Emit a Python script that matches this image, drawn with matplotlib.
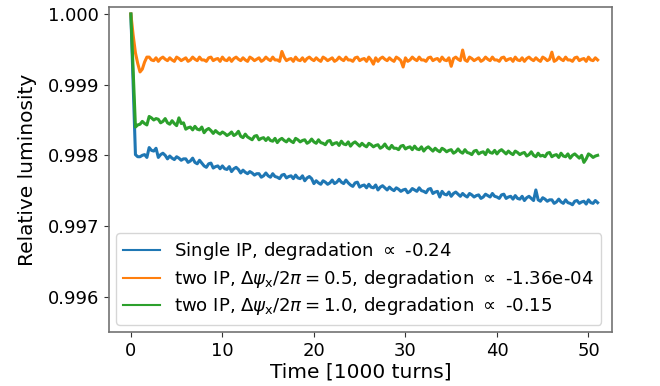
import numpy as np
import matplotlib
matplotlib.use("Agg")
import matplotlib.pyplot as plt

# sample times [1000 turns], step 0.25 (0 ... 51)
t = np.arange(0, 205) * 0.25

# luminosity loss, in units of 1e-5 (relative luminosity = 1 - loss*1e-5)
blue_loss = [
    0, 100, 199, 202, 202, 200, 199, 203, 189, 193, 194, 190, 203, 199, 197, 200,
    205, 201, 204, 206, 202, 204, 207, 205, 205, 210, 208, 204, 210, 212, 207, 211,
    215, 217, 212, 211, 218, 216, 215, 219, 215, 219, 220, 216, 223, 219, 217, 220,
    225, 221, 224, 226, 223, 225, 228, 226, 226, 231, 229, 225, 229, 231, 226, 230,
    231, 233, 228, 227, 232, 230, 229, 233, 228, 232, 233, 229, 236, 232, 230, 233,
    240, 236, 239, 241, 236, 238, 241, 239, 235, 240, 238, 234, 238, 240, 235, 239,
    242, 244, 239, 238, 245, 243, 242, 246, 241, 245, 246, 242, 249, 245, 243, 246,
    249, 245, 248, 250, 246, 248, 251, 249, 248, 253, 251, 247, 249, 251, 246, 250,
    251, 253, 248, 247, 254, 252, 251, 259, 251, 255, 256, 252, 258, 254, 252, 255,
    258, 254, 257, 259, 254, 256, 259, 257, 256, 261, 259, 255, 257, 259, 254, 258,
    259, 261, 256, 255, 261, 259, 258, 262, 257, 261, 262, 258, 264, 260, 258, 261,
    264, 249, 263, 265, 260, 262, 265, 263, 263, 268, 266, 262, 266, 268, 263, 267,
    268, 270, 265, 264, 268, 266, 265, 269, 263, 267, 268, 264, 267,
]
orange_loss = [
    0, 30, 55, 70, 82, 78, 68, 61, 61, 65, 66, 62, 67, 63, 61, 64,
    66, 62, 65, 67, 61, 63, 66, 64, 62, 67, 65, 61, 64, 66, 61, 65,
    65, 67, 62, 61, 66, 64, 63, 67, 61, 65, 66, 62, 67, 63, 61, 64,
    66, 62, 65, 67, 61, 63, 66, 64, 62, 67, 65, 61, 64, 66, 61, 65,
    65, 67, 53, 61, 66, 64, 63, 67, 61, 65, 66, 62, 67, 63, 61, 64,
    66, 62, 65, 67, 61, 63, 66, 64, 62, 67, 65, 61, 64, 66, 61, 65,
    65, 67, 62, 61, 66, 64, 63, 67, 61, 65, 71, 62, 67, 63, 61, 64,
    66, 62, 65, 67, 61, 63, 66, 75, 62, 67, 65, 61, 64, 66, 61, 65,
    65, 67, 62, 61, 66, 64, 63, 67, 61, 65, 66, 62, 74, 63, 61, 64,
    66, 51, 65, 67, 61, 63, 66, 64, 62, 67, 65, 61, 64, 66, 61, 65,
    65, 67, 62, 61, 66, 64, 63, 67, 61, 65, 66, 62, 67, 63, 61, 64,
    66, 62, 65, 67, 61, 63, 66, 64, 54, 67, 65, 61, 64, 66, 61, 65,
    65, 67, 62, 61, 66, 64, 63, 67, 61, 65, 66, 62, 65,
]
green_loss = [
    0, 80, 160, 157, 156, 152, 155, 157, 145, 147, 150, 148, 149, 154, 152, 148,
    154, 156, 151, 155, 158, 147, 155, 154, 163, 161, 160, 164, 159, 163, 164, 160,
    168, 164, 162, 165, 169, 165, 168, 170, 167, 169, 172, 170, 167, 172, 170, 166,
    173, 175, 170, 174, 176, 178, 173, 172, 178, 176, 175, 179, 175, 179, 180, 176,
    182, 178, 176, 179, 181, 177, 180, 182, 176, 178, 181, 179, 178, 183, 181, 177,
    181, 183, 178, 182, 183, 185, 180, 179, 185, 183, 182, 186, 180, 184, 185, 181,
    187, 183, 181, 184, 187, 183, 186, 188, 183, 185, 188, 186, 185, 190, 188, 184,
    189, 191, 186, 190, 190, 192, 187, 186, 191, 189, 188, 192, 187, 191, 192, 188,
    194, 190, 188, 191, 194, 190, 193, 195, 190, 192, 195, 193, 192, 197, 195, 191,
    195, 197, 192, 196, 197, 199, 194, 193, 198, 196, 195, 199, 192, 196, 197, 193,
    198, 194, 192, 195, 198, 194, 197, 199, 194, 196, 199, 197, 196, 201, 199, 195,
    200, 202, 197, 201, 200, 202, 197, 196, 202, 200, 199, 203, 197, 201, 202, 198,
    204, 200, 198, 201, 204, 200, 210, 205, 198, 200, 203, 201, 200,
]

labels = [
    r"Single IP, degradation $\propto$ -0.24",
    r"two IP, $\Delta\psi_{\mathrm{x}}/2\pi = 0.5$, degradation $\propto$ -1.36e-04",
    r"two IP, $\Delta\psi_{\mathrm{x}}/2\pi = 1.0$, degradation $\propto$ -0.15",
]
colors = ["#1f77b4", "#ff7f0e", "#2ca02c"]

fig = plt.figure(figsize=(6.6, 3.86), dpi=100)
ax = fig.add_axes([0.165, 0.140, 0.762, 0.842])

for loss, lab, c in zip([blue_loss, orange_loss, green_loss], labels, colors):
    lum = 1.0 - np.asarray(loss, dtype=float) * 1e-5
    ax.plot(t, lum, color=c, lw=2.2, label=lab)

ax.set_xlim(-2.4, 52.55)
ax.set_ylim(0.99550, 1.00010)
ax.set_yticks([0.996, 0.997, 0.998, 0.999, 1.000])
ax.set_yticklabels(["0.996", "0.997", "0.998", "0.999", "1.000"])
ax.set_xticks([0, 10, 20, 30, 40, 50])

ax.tick_params(labelsize=13, color="0.2")
for s in ax.spines.values():
    s.set_color("0.45")
    s.set_linewidth(1.2)

ax.set_xlabel("Time [1000 turns]", fontsize=14.5, labelpad=2)
ax.set_ylabel("Relative luminosity", fontsize=14.5, labelpad=8)

leg = ax.legend(loc="lower left", fontsize=13.1, handlelength=2.0,
                borderaxespad=0.4, labelspacing=0.3)
for ln in leg.get_lines():
    ln.set_linewidth(1.5)

fig.savefig("out.png", dpi=100)
